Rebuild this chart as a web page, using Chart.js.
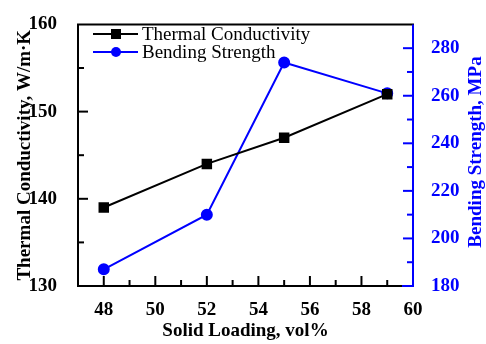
<!DOCTYPE html>
<html>
<head>
  <title>Thermal Conductivity vs Bending Strength</title>
  <script src="https://cdn.jsdelivr.net/npm/chart.js"></script>
  <style>
    body { margin: 0; background: #fff; }
    #wrap { width: 486px; height: 344px; }
  </style>
</head>
<body>
  <div id="wrap"><canvas id="myChart"></canvas></div>
  <script>
    // Data
    const solidLoading = [48, 52, 55, 59];
    const thermalConductivity = [139, 144, 147, 152];
    const bendingStrength = [187, 210, 274, 261];
    const xTickLabels = [48, 50, 52, 54, 56, 58, 60];
    const leftTickLabels = [130, 140, 150, 160];
    const rightTickLabels = [180, 200, 220, 240, 260, 280];
    const rightTitle = 'Bending Strength, MPa';

    const BLUE = '#0000ff';
    const SERIF = "'Liberation Serif', 'Times New Roman', serif";

    // frame, inward ticks and legend drawn with the scales' own pixel mapping
    const framePlugin = {
      id: 'frame',
      beforeDatasetsDraw(chart) {
        const ctx = chart.ctx;
        const a = chart.chartArea;
        const x = chart.scales.x, yl = chart.scales.y, yr = chart.scales.y1;
        ctx.save();
        ctx.lineWidth = 2;
        ctx.lineCap = 'square';
        // black: left, top, bottom
        ctx.strokeStyle = '#000';
        ctx.beginPath();
        ctx.moveTo(a.right, a.top); ctx.lineTo(a.left, a.top);
        ctx.lineTo(a.left, a.bottom); ctx.lineTo(a.right - 10, a.bottom);
        ctx.stroke();
        // x ticks (major on even, minor on odd)
        for (let v = 48; v < 60; v++) {
          const px = x.getPixelForValue(v);
          const len = v % 2 === 0 ? 9 : 5;
          ctx.beginPath(); ctx.moveTo(px, a.bottom); ctx.lineTo(px, a.bottom - len); ctx.stroke();
        }
        // left y ticks
        for (let v = 135; v < 160; v += 5) {
          const py = yl.getPixelForValue(v);
          const len = v % 10 === 0 ? 9 : 5;
          ctx.beginPath(); ctx.moveTo(a.left, py); ctx.lineTo(a.left + len, py); ctx.stroke();
        }
        // blue right axis
        ctx.strokeStyle = BLUE;
        ctx.beginPath();
        ctx.moveTo(a.right - 10, a.bottom); ctx.lineTo(a.right, a.bottom);
        ctx.lineTo(a.right, a.top + 1); ctx.stroke();
        for (let v = 190; v < 290; v += 10) {
          const py = yr.getPixelForValue(v);
          const len = v % 20 === 0 ? 9 : 5;
          ctx.beginPath(); ctx.moveTo(a.right, py); ctx.lineTo(a.right - len, py); ctx.stroke();
        }
        ctx.restore();
      },
      afterDraw(chart) {
        const ctx = chart.ctx;
        const rows = [[0, 34], [1, 52]];
        ctx.save();
        ctx.font = '19px ' + SERIF;
        ctx.textBaseline = 'middle';
        rows.forEach(([i, y]) => {
          const ds = chart.data.datasets[i];
          ctx.strokeStyle = ds.borderColor;
          ctx.fillStyle = ds.backgroundColor;
          ctx.lineWidth = 2;
          ctx.beginPath(); ctx.moveTo(93, y); ctx.lineTo(138, y); ctx.stroke();
          if (ds.pointStyle === 'rect') {
            ctx.fillRect(111, y - 5, 10, 10);
          } else {
            ctx.beginPath(); ctx.arc(116, y, 5, 0, Math.PI * 2); ctx.fill();
          }
          ctx.fillStyle = '#000';
          ctx.fillText(ds.label, 142, y + 1);
        });
        // right axis title, reading bottom to top
        ctx.translate(476, 152);
        ctx.rotate(-Math.PI / 2);
        ctx.font = 'bold 19px ' + SERIF;
        ctx.fillStyle = BLUE;
        ctx.textAlign = 'center';
        ctx.textBaseline = 'middle';
        ctx.fillText(rightTitle, 0, 0);
        ctx.restore();
      }
    };

    const tickFont = { family: SERIF, size: 19, weight: 'bold' };
    const titleFont = { family: SERIF, size: 19, weight: 'bold', lineHeight: 1 };

    const chart = new Chart(document.getElementById('myChart'), {
      type: 'line',
      data: {
        datasets: [
          {
            label: 'Thermal Conductivity',
            data: solidLoading.map((s, i) => ({ x: s, y: thermalConductivity[i] })),
            yAxisID: 'y',
            borderColor: '#000',
            backgroundColor: '#000',
            borderWidth: 2,
            pointStyle: 'rect',
            pointRadius: 6,
            pointHoverRadius: 6,
            tension: 0,
            clip: false
          },
          {
            label: 'Bending Strength',
            data: solidLoading.map((s, i) => ({ x: s, y: bendingStrength[i] })),
            yAxisID: 'y1',
            borderColor: BLUE,
            backgroundColor: BLUE,
            borderWidth: 2,
            pointStyle: 'circle',
            pointRadius: 5,
            pointHoverRadius: 5,
            tension: 0,
            clip: false
          }
        ]
      },
      options: {
        responsive: true,
        maintainAspectRatio: false,
        animation: false,
        layout: { padding: { top: 19 } },
        plugins: { legend: { display: false }, tooltip: { enabled: false } },
        scales: {
          x: {
            type: 'linear',
            min: 47,
            max: 60,
            grid: { display: false },
            border: { display: false },
            afterBuildTicks: s => { s.ticks = xTickLabels.map(v => ({ value: v })); },
            afterFit: s => { s.height = 58; },
            ticks: { color: '#000', font: tickFont, padding: 5, maxRotation: 0 },
            title: { display: true, text: 'Solid Loading, vol%', color: '#000', font: titleFont, padding: { top: 0, bottom: 3 } }
          },
          y: {
            position: 'left',
            min: 130,
            max: 160,
            grid: { display: false },
            border: { display: false },
            afterBuildTicks: s => { s.ticks = leftTickLabels.map(v => ({ value: v })); },
            afterFit: s => { s.width = 78; },
            ticks: { color: '#000', font: tickFont, padding: 13 },
            title: { display: true, text: 'Thermal Conductivity, W/m·K', color: '#000', font: titleFont, padding: { top: 16, bottom: 0 } }
          },
          y1: {
            position: 'right',
            min: 180,
            max: 290,
            grid: { display: false },
            border: { display: false },
            afterBuildTicks: s => { s.ticks = rightTickLabels.map(v => ({ value: v })); },
            afterFit: s => { s.width = 73; },
            ticks: { color: BLUE, font: tickFont, padding: 10 },
            title: { display: false }
          }
        }
      },
      plugins: [framePlugin]
    });
  </script>
</body>
</html>
